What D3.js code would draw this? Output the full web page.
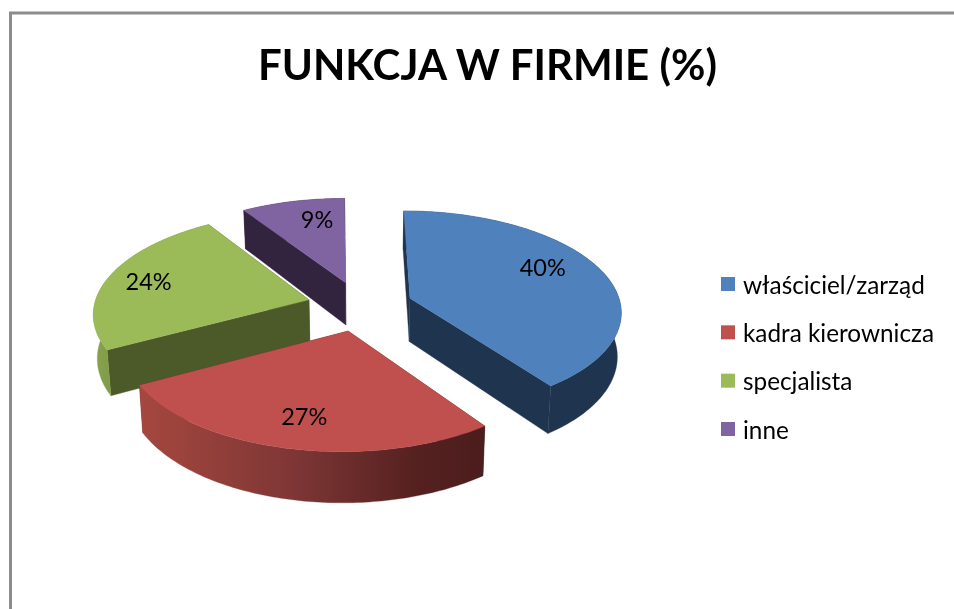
<!DOCTYPE html>
<html>
<head>
<meta charset="utf-8">
<script src="https://cdn.jsdelivr.net/npm/d3@7"></script>
<style>
html,body{margin:0;padding:0;background:#fff;overflow:hidden}
svg{display:block}
text{font-family:Lato,"Open Sans",sans-serif;fill:#000;filter:blur(0.35px)}
</style>
</head>
<body>
<svg id="chart" width="954" height="609"></svg>
<script>
const categories = ["właściciel/zarząd","kadra kierownicza","specjalista","inne"];
const values = [40,27,24,9];
const titleText = "FUNKCJA W FIRMIE (%)";

const topColors = ["#4f81bd","#c0504d","#9bbb59","#8064a2"];
const faceColors = ["#1f344e","#4e1f1e","#4b5a28","#32243f"];
const drawOrder = [3,2,0,1];
const labelShiftDeg = [-8.6,0,0,5];
const labelRadius = [0.75,0.75,0.8,0.75];
const rimShift = [-1,-4,-3,-3];

const W=954,H=609,X0=360,Y0=306,R=212,K=0.47,P=0.12,DEPTH=43.5,EXPLODE=53,SHRINK=0.985;
const svg=d3.select("#chart");
const defs=svg.append("defs");

function gradient(id,x1,x2,stops){
  const g=defs.append("linearGradient").attr("id",id).attr("gradientUnits","userSpaceOnUse")
    .attr("x1",x1).attr("x2",x2).attr("y1",0).attr("y2",0);
  stops.forEach(s=>g.append("stop").attr("offset",s[0]).attr("stop-color",s[1]));
}
gradient("wall1",142,484,[[0,"#a5473f"],[0.45,"#7d3635"],[0.8,"#552120"],[1,"#4c1d1d"]]);
gradient("wall2",94,125,[[0,"#87a34c"],[1,"#7a9644"]]);

// frame
svg.append("path").attr("d",`M10.5,${H}V13H${W}`).attr("fill","none").attr("stroke","#8c8c8c").attr("stroke-width",3);

const project=(U,V)=>{const w=1/(1-P*V/R);return {x:X0+U*w,y:Y0+V*K*w,w};};
const dropped=p=>({x:X0+(p.x-X0)*SHRINK,y:p.y+DEPTH*p.w});
const line=d3.line().x(d=>d.x).y(d=>d.y);

const arcs=d3.pie().sort(null).startAngle(0).endAngle(2*Math.PI)(values);
const color=d3.scaleOrdinal().domain(categories).range(topColors);

function geom(i){
  const a=arcs[i],mid=(a.startAngle+a.endAngle)/2;
  const U0=Math.sin(mid)*EXPLODE;
  const V0=-Math.cos(mid)*EXPLODE;
  const at=(ang,r)=>project(U0+r*rimShift[i]+R*r*Math.sin(ang),V0-R*r*Math.cos(ang));
  const n=Math.max(8,Math.round((a.endAngle-a.startAngle)*60));
  const rim=d3.range(n+1).map(k=>at(a.startAngle+(a.endAngle-a.startAngle)*k/n,1));
  return {a,mid,apex:at(0,0),rim,at};
}

const g=svg.append("g");
drawOrder.forEach(i=>{
  const s=geom(i);
  const start=s.rim[0],end=s.rim[s.rim.length-1];
  const wallFill= i===1?"url(#wall1)": i===2?"url(#wall2)": faceColors[i];
  // radial faces
  [start,end].forEach(p=>{
    g.append("path").attr("d",line([s.apex,p,dropped(p),dropped(s.apex)])+"Z")
     .attr("fill",faceColors[i]).attr("stroke",faceColors[i]).attr("stroke-width",0.3);
  });
  // outer wall
  g.append("path").attr("d",line(s.rim.concat(s.rim.map(dropped).reverse()))+"Z")
   .attr("fill",wallFill).attr("stroke",wallFill).attr("stroke-width",0.3);
  // top
  g.append("path").attr("d",line([s.apex].concat(s.rim))+"Z")
   .attr("fill",color(categories[i])).attr("stroke",color(categories[i])).attr("stroke-width",0.3);
});

// data labels
values.forEach((v,i)=>{
  const s=geom(i);
  const p=s.at(s.mid+labelShiftDeg[i]*Math.PI/180,labelRadius[i]);
  svg.append("text").attr("x",p.x).attr("y",p.y).attr("text-anchor","middle")
    .attr("dominant-baseline","central").attr("font-size",23.5).text(v+"%");
});

// title
svg.append("text").attr("x",487.5).attr("y",80).attr("text-anchor","middle")
  .attr("font-size",42).attr("font-weight",700).text(titleText);

// legend
const legendY=d3.scalePoint().domain(categories).range([284,429]);
const legend=svg.append("g").selectAll("g").data(categories).join("g")
  .attr("transform",d=>`translate(721,${legendY(d)})`);
legend.append("rect").attr("x",0).attr("y",-7).attr("width",14).attr("height",14).attr("fill",d=>color(d));
legend.append("text").attr("x",22).attr("y",0).attr("dominant-baseline","central")
  .attr("font-size",24.3).text(d=>d);
</script>
</body>
</html>
